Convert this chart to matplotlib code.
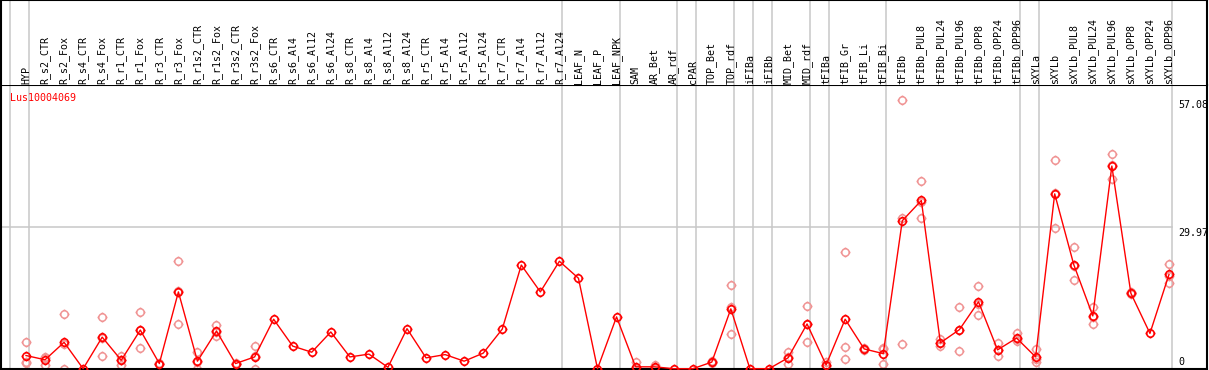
import numpy as np
import matplotlib
matplotlib.use("Agg")
import matplotlib.pyplot as plt
from matplotlib.path import Path

# ---------------- data ----------------
samples = ["HYP",
           "R_s2_CTR", "R_s2_Fox", "R_s4_CTR", "R_s4_Fox", "R_r1_CTR", "R_r1_Fox",
           "R_r3_CTR", "R_r3_Fox", "R_r1s2_CTR", "R_r1s2_Fox", "R_r3s2_CTR", "R_r3s2_Fox",
           "R_s6_CTR", "R_s6_Al4", "R_s6_Al12", "R_s6_Al24", "R_s8_CTR", "R_s8_Al4",
           "R_s8_Al12", "R_s8_Al24", "R_r5_CTR", "R_r5_Al4", "R_r5_Al12", "R_r5_Al24",
           "R_r7_CTR", "R_r7_Al4", "R_r7_Al12", "R_r7_Al24",
           "LEAF_N", "LEAF_P", "LEAF_NPK",
           "SAM", "AR_Bet", "AR_rdf",
           "cPAR",
           "TOP_Bet", "TOP_rdf",
           "iFIBa",
           "iFIBb",
           "MID_Bet", "MID_rdf",
           "tFIBa",
           "tFIB_Gr", "tFIB_Li", "tFIB_Bi",
           "tFIBb", "tFIBb_PUL8", "tFIBb_PUL24", "tFIBb_PUL96", "tFIBb_OPP8",
           "tFIBb_OPP24", "tFIBb_OPP96",
           "sXYLa",
           "sXYLb", "sXYLb_PUL8", "sXYLb_PUL24", "sXYLb_PUL96", "sXYLb_OPP8",
           "sXYLb_OPP24", "sXYLb_OPP96"]

# sizes of the sample groups separated by vertical grid lines
group_sizes = [1, 28, 3, 3, 1, 2, 1, 1, 2, 1, 3, 7, 1, 7]

nan = np.nan
mean_values = [2.8,
               1.9, 5.6, 0.0, 6.7, 1.8, 8.2,
               1.1, 16.3, 1.6, 8.0, 1.1, 2.5,
               10.5, 4.8, 3.5, 7.8, 2.5, 3.1,
               0.3, 8.5, 2.3, 3.0, 1.6, 3.3,
               8.4, 22.0, 16.3, 22.8,
               19.2, 0.0, 11.0,
               0.4, 0.4, 0.0,
               0.0,
               1.4, 12.7,
               0.0,
               0.0,
               2.3, 9.5,
               0.8,
               10.5, 4.2, 3.2,
               31.4, 35.7, 5.5, 8.3, 14.2,
               4.0, 6.5,
               2.5,
               37.1, 22.1, 11.2, 43.0, 16.0,
               7.5, 20.0]

rep1 = [5.7,
        2.5, 11.6, nan, 11.0, 2.8, 12.0,
        1.3, 22.8, 3.5, 9.3, 1.2, 4.9,
        nan, nan, nan, nan, nan, nan,
        nan, nan, nan, nan, nan, nan,
        nan, nan, nan, nan,
        nan, nan, nan,
        1.4, 0.85, nan,
        nan,
        1.6, 17.7,
        nan,
        nan,
        3.6, 13.3,
        1.4,
        24.7, 4.5, 4.4,
        57.08, 39.8, 6.2, 13.0, 17.6,
        5.4, 7.5,
        4.2,
        44.2, 25.8, 13.1, 45.6, 15.8,
        nan, 22.2]

rep2 = [1.4,
        0.85, 0.0, nan, 2.7, 0.8, 4.3,
        1.0, 9.5, 0.0, 6.9, 1.0, 0.0,
        nan, nan, nan, nan, nan, nan,
        nan, nan, nan, nan, nan, nan,
        nan, nan, nan, nan,
        nan, nan, nan,
        0.0, 0.2, nan,
        nan,
        1.2, 7.4,
        nan,
        nan,
        0.9, 5.7,
        0.6,
        4.6, 3.9, 1.0,
        5.2, 31.9, 4.9, 3.8, 11.4,
        2.8, 5.8,
        1.4,
        29.8, 18.8, 9.5, 40.2, 16.1,
        nan, 18.1]

rep3 = [1.3,
        2.3, 5.3, nan, 6.5, 1.8, 8.2,
        1.1, 16.5, 1.4, 7.8, 1.1, 2.6,
        nan, nan, nan, nan, nan, nan,
        nan, nan, nan, nan, nan, nan,
        nan, nan, nan, nan,
        nan, nan, nan,
        0.0, 0.1, nan,
        nan,
        1.4, 13.0,
        nan,
        nan,
        2.4, 9.5,
        0.5,
        2.1, 4.2, 4.2,
        31.9, 35.4, 5.5, 8.2, 13.7,
        3.9, 6.2,
        2.0,
        37.2, 21.8, 11.0, 43.2, 16.2,
        nan, 19.7]

gene_name = "Lus10004069"
ytick_values = [57.08, 29.97, 0]
ytick_labels = ["57.08", "29.97", "0"]

# ---------------- styling ----------------
FONT = "DejaVu Sans Mono"
FS = 7.2
RED = "#ff0000"
PINK = "#f09494"
GRID = "#c8c8c8"

# marker: open circle with four short ticks
th = np.linspace(0, 2 * np.pi, 33)
verts = list(zip(np.cos(th), np.sin(th)))
codes = [Path.MOVETO] + [Path.LINETO] * (len(th) - 1)
for dx, dy in [(0, 1), (0, -1), (1, 0), (-1, 0)]:
    verts += [(dx * 1.0, dy * 1.0), (dx * 1.35, dy * 1.35)]
    codes += [Path.MOVETO, Path.LINETO]
marker_path = Path(verts, codes)

W, H = 1209, 370
fig = plt.figure(figsize=(W / 100, H / 100), dpi=100)
fig.patch.set_facecolor("white")

left_px, right_px = 1, 1207
head_bot_px = 85
bot_px = 369
ax = fig.add_axes([left_px / W, (H - bot_px) / H,
                   (right_px - left_px) / W, (bot_px - head_bot_px) / H])
axh = fig.add_axes([left_px / W, (H - head_bot_px) / H,
                    (right_px - left_px) / W, head_bot_px / H], sharex=ax)

x = np.arange(len(samples))
x_lo, x_hi = -1.312, 61.995
ax.set_xlim(x_lo, x_hi)
ax.set_ylim(-0.06, 60.2)
axh.set_ylim(0, 1)

# group separator lines
bounds = np.concatenate([[-1], np.cumsum(group_sizes) - 1]) + 0.16
for b in bounds:
    ax.axvline(b, color=GRID, lw=1.1, zorder=1)
    axh.axvline(b, color=GRID, lw=1.1, zorder=1)

# horizontal grid at middle tick
ax.plot([x_lo, bounds[-1]], [ytick_values[1]] * 2, color=GRID, lw=1.1, zorder=1)

# replicates
for reps in (rep1, rep2, rep3):
    ax.plot(x, reps, linestyle="none", marker=marker_path, markersize=7.2,
            markerfacecolor="none", markeredgecolor=PINK, markeredgewidth=1.1,
            zorder=2, clip_on=False)

# mean line and markers
ax.plot(x, mean_values, color=RED, lw=1.0, zorder=3, clip_on=False)
ax.plot(x, mean_values, linestyle="none", marker=marker_path, markersize=7.2,
        markerfacecolor="none", markeredgecolor=RED, markeredgewidth=1.2,
        zorder=4, clip_on=False)

# header labels
for xi, name in zip(x, samples):
    axh.text(xi, 0.015, name, rotation=90, ha="center", va="bottom",
             fontsize=FS, family=FONT, color="black")

# gene name
ax.annotate(gene_name, xy=(bounds[0], 1), xycoords=("data", "axes fraction"),
            xytext=(0, -6), textcoords="offset points", ha="left", va="top",
            fontsize=FS, family=FONT, color=RED)

# y tick labels on the right
tx = bounds[-1]
for v, lab in zip(ytick_values, ytick_labels):
    if v == 0:
        ax.annotate(lab, xy=(tx, v), xytext=(4.5, 1.5), textcoords="offset points",
                    ha="left", va="bottom", fontsize=FS, family=FONT)
    else:
        ax.annotate(lab, xy=(tx, v), xytext=(4.5, -0.5), textcoords="offset points",
                    ha="left", va="top", fontsize=FS, family=FONT)

for a in (ax, axh):
    a.set_xticks([])
    a.set_yticks([])
    for s in a.spines.values():
        s.set_color("black")
        s.set_linewidth(1.5)
axh.spines["bottom"].set_visible(False)

fig.savefig("out.png", dpi=100, facecolor="white")
